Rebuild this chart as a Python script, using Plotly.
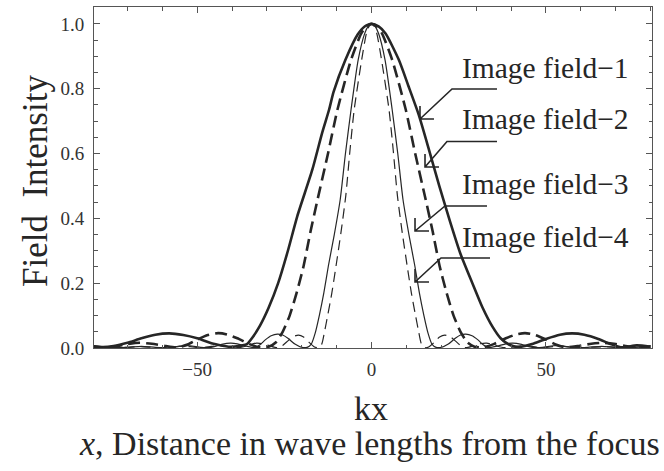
import plotly.graph_objects as go

# ---- data ----
kx1 = [-80, -77, -74, -70, -66, -62, -58, -54, -50, -45, -41, -38, -35.8, -34, -32, -29.5, -26.8, -24,
       -21.3, -17, -14.2, -12.2, -10.9, -7.5, -4, -2, 0, 2, 4, 7.8, 10.5, 13.5, 16.5, 19.4, 22.5, 25.5,
       28.9, 31.8, 34.7, 37, 39.5, 42, 46, 50, 54, 57.5, 61, 65, 68.5, 72, 76, 80]
I1 = [0.006, 0.003, 0.006, 0.016, 0.03, 0.041, 0.045, 0.04, 0.03, 0.012, 0.004, 0.006, 0.012, 0.035,
      0.069, 0.125, 0.2, 0.3, 0.407, 0.55, 0.663, 0.735, 0.79, 0.889, 0.967, 0.992, 1.0, 0.992, 0.97,
      0.889, 0.81, 0.72, 0.61, 0.5, 0.39, 0.29, 0.2, 0.125, 0.065, 0.03, 0.01, 0.003, 0.012, 0.028,
      0.041, 0.045, 0.041, 0.028, 0.012, 0.002, 0.008, 0.004]

kx2 = [-80, -77, -74, -70, -66.5, -63, -59, -55.5, -53, -50, -47, -44, -41.5, -38.5, -35, -32, -29.5,
       -27.5, -25.5, -23.5, -21.5, -19.5, -17.5, -15.5, -12.5, -9.8, -5.9, -3, -1.5, 0, 1.5, 3, 5.9,
       9.8, 12.5, 15.5, 17.5, 19.5, 21.5, 23.5, 25.5, 27.5, 29.5, 32, 35, 38.5, 41.5, 44, 47, 50, 53,
       55.5, 59, 63, 66.5, 70, 74, 77, 80]
I2 = [0.005, 0.001, 0.004, 0.012, 0.016, 0.013, 0.006, 0.002, 0.01, 0.026, 0.04, 0.046, 0.042, 0.03,
      0.012, 0.002, 0.004, 0.017, 0.05, 0.1, 0.17, 0.253, 0.36, 0.458, 0.6, 0.735, 0.889, 0.97, 0.992,
      1.0, 0.992, 0.97, 0.889, 0.735, 0.6, 0.458, 0.36, 0.253, 0.17, 0.1, 0.05, 0.017, 0.004, 0.002,
      0.012, 0.03, 0.042, 0.046, 0.04, 0.026, 0.01, 0.002, 0.006, 0.013, 0.016, 0.012, 0.004, 0.001,
      0.005]

kx3 = [-80, -77, -74, -70, -66, -62, -58, -55, -52, -49, -46, -43, -40.5, -38.5, -36, -33.5, -32,
       -30.5, -28.8, -27, -25.5, -24, -22, -20, -18.5, -17.3, -16.2, -15, -13.7, -12.4, -10.7, -9,
       -7.5, -5.9, -3.85, -2, -1, 0, 1, 2, 3.85, 5.9, 7.5, 9, 10.7, 12.4, 13.7, 15, 16.2, 17.3, 18.5,
       20, 22, 24, 25.5, 27, 28.8, 30.5, 32, 33.5, 36, 38.5, 40.5, 43, 46, 49, 52, 55, 58, 62, 66, 70,
       74, 77, 80]
I3 = [0.002, 0.003, 0.001, 0.002, 0.005, 0.002, 0.001, 0.006, 0.007, 0.002, 0.002, 0.011, 0.015,
      0.013, 0.006, 0.001, 0.01, 0.025, 0.038, 0.043, 0.04, 0.03, 0.012, 0.002, 0.002, 0.012, 0.045,
      0.1, 0.17, 0.253, 0.35, 0.458, 0.6, 0.735, 0.889, 0.97, 0.992, 1.0, 0.992, 0.97, 0.889, 0.735,
      0.6, 0.458, 0.35, 0.253, 0.17, 0.1, 0.045, 0.012, 0.002, 0.002, 0.012, 0.03, 0.04, 0.043, 0.038,
      0.025, 0.01, 0.001, 0.006, 0.013, 0.015, 0.011, 0.002, 0.002, 0.007, 0.006, 0.001, 0.002, 0.005,
      0.002, 0.001, 0.003, 0.002]

kx4 = [-80, -76, -73, -70, -67, -64, -61, -58, -55, -52, -48.5, -46, -43.5, -41, -38.5, -37, -35, -33,
       -31, -29, -27, -25.5, -24, -22.5, -21, -19.5, -18, -16.5, -15.3, -14.3, -13.5, -12.6, -11.4,
       -10.2, -8.8, -7.4, -6.2, -5, -2.85, -1.5, -0.75, 0, 0.75, 1.5, 2.85, 5, 6.2, 7.4, 8.8, 10.2,
       11.4, 12.6, 13.5, 14.3, 15.3, 16.5, 18, 19.5, 21, 22.5, 24, 25.5, 27, 29, 31, 33, 35, 37, 38.5,
       41, 43.5, 46, 48.5, 52, 55, 58, 61, 64, 67, 70, 73, 76, 80]
I4 = [0.002, 0.003, 0.001, 0.002, 0.004, 0.003, 0.001, 0.002, 0.005, 0.004, 0.001, 0.005, 0.007,
      0.004, 0.001, 0.003, 0.01, 0.015, 0.013, 0.006, 0.001, 0.008, 0.022, 0.035, 0.04, 0.034, 0.018,
      0.004, 0.001, 0.012, 0.05, 0.1, 0.17, 0.253, 0.355, 0.47, 0.61, 0.735, 0.889, 0.97, 0.992, 1.0,
      0.992, 0.97, 0.889, 0.735, 0.61, 0.47, 0.355, 0.253, 0.17, 0.1, 0.05, 0.012, 0.001, 0.004, 0.018,
      0.034, 0.04, 0.035, 0.022, 0.008, 0.001, 0.006, 0.013, 0.015, 0.01, 0.003, 0.001, 0.004, 0.007,
      0.005, 0.001, 0.004, 0.005, 0.002, 0.001, 0.003, 0.004, 0.002, 0.001, 0.003, 0.002]

labels = ["Image field\u22121", "Image field\u22122", "Image field\u22123", "Image field\u22124"]
y_tick_vals = [0.0, 0.2, 0.4, 0.6, 0.8, 1.0]
x_tick_vals = [-50, 0, 50]

# ---- layout geometry (pixels) ----
W, H = 664, 471
L, R, T, B = 94, 652, 7, 348
XR = [-79.6, 80.4]
YR = [0, 1.052]
INK = "#262626"
FRAME = "#555555"
SERIF = "Liberation Serif"


def px(x):
    return (x - L) / (R - L)


def py(y):
    return (B - y) / (B - T)


fig = go.Figure()
styles = [
    (kx1, I1, dict(color=INK, width=2.6)),
    (kx2, I2, dict(color=INK, width=2.6, dash="12px,6px")),
    (kx3, I3, dict(color=INK, width=1.2)),
    (kx4, I4, dict(color=INK, width=1.2, dash="10px,6px")),
]
for xs, ys, ln in styles:
    ln.update(shape="spline", smoothing=0.6)
    fig.add_trace(go.Scatter(x=xs, y=ys, mode="lines", line=ln, showlegend=False,
                             hoverinfo="skip"))

# label text positions (left x, centre y) and arrow paths (pixels)
label_pos = [(460, 68), (460, 119), (460, 184), (460, 237)]
arrows = [
    ((497, 89), (452, 89), (420, 119)),
    ((497, 141.5), (447, 141.5), (425, 167)),
    ((487, 206), (445, 206), (415, 231)),
    ((490, 258), (441, 258), (415, 282)),
]

annotations = []
shapes = []
for (lx, ly), txt in zip(label_pos, labels):
    annotations.append(dict(text=txt, xref="paper", yref="paper", x=px(lx), y=py(ly),
                            xanchor="left", yanchor="middle", showarrow=False,
                            font=dict(family=SERIF, size=29.5, color=INK)))
for (e, c, t) in arrows:
    pts = [e, c, t]
    path = "M " + " L ".join(f"{px(a):.4f},{py(b):.4f}" for a, b in pts)
    path += f" M {px(t[0]):.4f},{py(t[1] - 13):.4f} L {px(t[0]):.4f},{py(t[1]):.4f} L {px(t[0] + 14):.4f},{py(t[1]):.4f}"
    shapes.append(dict(type="path", xref="paper", yref="paper", path=path,
                       line=dict(color=INK, width=1.6)))

# axis titles
annotations.append(dict(text="Field\u00a0\u00a0Intensity", xref="paper", yref="paper",
                        x=px(35), y=py(181), textangle=-90, showarrow=False,
                        xanchor="center", yanchor="middle",
                        font=dict(family=SERIF, size=35, color=INK)))
annotations.append(dict(text="kx", xref="paper", yref="paper", x=px(371), y=py(408),
                        showarrow=False, xanchor="center", yanchor="middle",
                        font=dict(family=SERIF, size=34, color=INK)))
annotations.append(dict(text="<i>x</i>, Distance in wave lengths from the focus", xref="paper",
                        yref="paper", x=px(369), y=py(443), showarrow=False,
                        xanchor="center", yanchor="middle",
                        font=dict(family=SERIF, size=34, color=INK)))

axis_common = dict(showgrid=False, zeroline=False, showline=True, linecolor=FRAME, linewidth=1,
                   mirror="allticks", ticks="inside", ticklen=6, tickwidth=1, tickcolor=FRAME,
                   tickfont=dict(family=SERIF, size=19, color="#333333"))

fig.update_layout(
    width=W, height=H,
    margin=dict(l=L, r=W - R, t=T, b=H - B),
    paper_bgcolor="white", plot_bgcolor="white",
    font=dict(family=SERIF),
    xaxis=dict(range=XR, tickmode="array", tickvals=x_tick_vals, ticklabelstandoff=4,
               minor=dict(dtick=10, tick0=0, ticks="inside", ticklen=3.5, tickcolor=FRAME),
               **axis_common),
    yaxis=dict(range=YR, tickmode="array", tickvals=y_tick_vals, tickformat=".1f",
               ticklabelstandoff=5,
               minor=dict(dtick=0.05, tick0=0, ticks="inside", ticklen=3.5, tickcolor=FRAME),
               **axis_common),
    annotations=annotations,
    shapes=shapes,
)

fig.write_html("out.html", config={"displayModeBar": False},
               post_script="document.body.style.margin='0px';")
